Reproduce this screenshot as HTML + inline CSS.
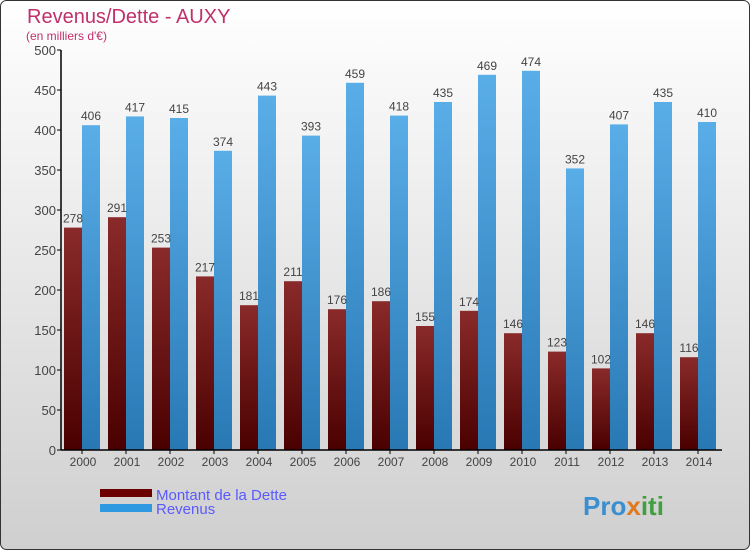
<!DOCTYPE html>
<html><head><meta charset="utf-8"><style>
body{margin:0}
#c{width:750px;height:550px;position:relative;overflow:hidden;font-family:"Liberation Sans",sans-serif}
</style></head><body>
<div id="c">
<svg width="750" height="550" xmlns="http://www.w3.org/2000/svg">
<defs>
<linearGradient id="bg" x1="0" y1="0" x2="0" y2="1"><stop offset="0" stop-color="#ffffff"/><stop offset="1" stop-color="#cfcfcf"/></linearGradient>
<linearGradient id="gd" x1="0" y1="0" x2="0" y2="1"><stop offset="0" stop-color="#8a2a2a"/><stop offset="1" stop-color="#4a0000"/></linearGradient>
<linearGradient id="gr" x1="0" y1="0" x2="0" y2="1"><stop offset="0" stop-color="#5aaee8"/><stop offset="1" stop-color="#2878b4"/></linearGradient>
</defs>
<rect x="0.5" y="0.5" width="749" height="549" rx="6" fill="url(#bg)" stroke="#333"/>
<text x="27" y="23" font-size="20" fill="#c0306a">Revenus/Dette - AUXY</text>
<text x="26" y="40" font-size="12" fill="#c0306a">(en milliers d'€)</text>
<g id="plot"></g>
<g>
<rect x="100" y="489" width="52" height="8" fill="#6a0000"/>
<text x="156" y="500" font-size="15" fill="#5a5aff">Montant de la Dette</text>
<rect x="100" y="504" width="52" height="8" fill="#2e99e0"/>
<text x="156" y="514" font-size="15" fill="#5a5aff">Revenus</text>
</g>
<text x="583" y="515" font-size="26" font-weight="bold" fill="#3a8fd0">Pro<tspan fill="#e07a20">x</tspan><tspan fill="#40a040">iti</tspan></text>
</svg>
</div>
<script>
const years=[2000,2001,2002,2003,2004,2005,2006,2007,2008,2009,2010,2011,2012,2013,2014];
const dette=[278,291,253,217,181,211,176,186,155,174,146,123,102,146,116];
const revenus=[406,417,415,374,443,393,459,418,435,469,474,352,407,435,410];
const yTicks=[0,50,100,150,200,250,300,350,400,450,500];
const NS="http://www.w3.org/2000/svg";
const g=document.getElementById('plot');
const y0=450,yTop=50,vMax=500;
const yS=v=>y0-(v/vMax)*(y0-yTop);
const xC=i=>82+i*44;
function mk(t,a){const e=document.createElementNS(NS,t);for(const k in a)e.setAttribute(k,a[k]);g.appendChild(e);return e;}
yTicks.forEach(v=>{
 const l=mk('line',{x1:57,x2:61,y1:yS(v),y2:yS(v),stroke:'#000'});
 
 
 const t=mk('text',{x:56,y:yS(v)+5,'font-size':13,fill:'#444','text-anchor':'end'});
 t.textContent=v;
 
 
});
years.forEach((yr,i)=>{
 const x=xC(i);
 const b1=mk('rect',{x:x-18,y:yS(dette[i]),width:18,height:y0-yS(dette[i]),fill:'url(#gd)'});
 
 
 const b2=mk('rect',{x:x,y:yS(revenus[i]),width:18,height:y0-yS(revenus[i]),fill:'url(#gr)'});
 
 
 const t1=mk('text',{x:x-9,y:yS(dette[i])-5,'font-size':12,fill:'#444','text-anchor':'middle'});
 t1.textContent=dette[i];
 
 
 const t2=mk('text',{x:x+9,y:yS(revenus[i])-5,'font-size':12,fill:'#444','text-anchor':'middle'});
 t2.textContent=revenus[i];
 
 
 const tk=mk('line',{x1:x,x2:x,y1:y0,y2:y0+4,stroke:'#000'});
 
 
 const tl=mk('text',{x:x+1,y:y0+16,'font-size':12,fill:'#444','text-anchor':'middle'});
 tl.textContent=yr;
 
 
});
const ax=mk('line',{x1:61,x2:61,y1:yTop,y2:y0,stroke:'#000','stroke-width':1.5});


const bx=mk('line',{x1:61,x2:722,y1:y0,y2:y0,stroke:'#000','stroke-width':1.5});


</script>
</body></html>
